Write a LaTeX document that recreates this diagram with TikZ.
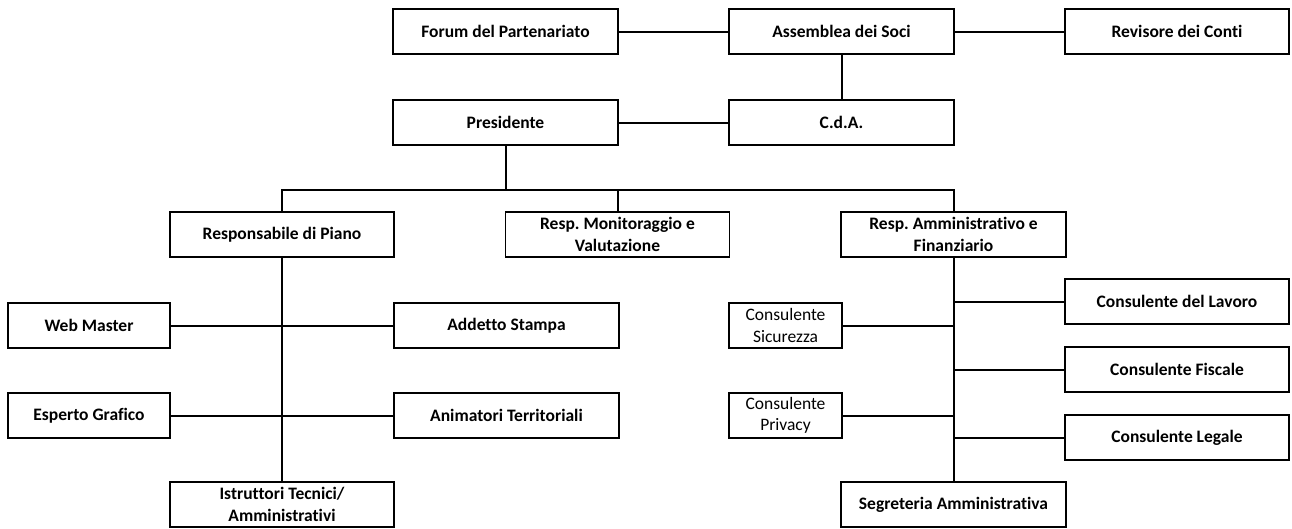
\documentclass[tikz,border=0pt]{standalone}
\usepackage{fontspec}
\setmainfont{Carlito}[Ligatures=NoCommon]
\frenchspacing
\tikzset{
  box/.style={draw=black, line width=1.8pt, fill=white, inner sep=0pt, minimum height=45pt,
    align=center, font=\fontsize{17.5}{21.5}\selectfont\bfseries},
  wbox/.style={box, minimum width=225pt},
  nbox/.style={box, minimum width=224pt},
  sbox/.style={box, minimum width=162pt},
  cbox/.style={box, minimum width=113pt, font=\fontsize{17.5}{21.5}\selectfont},
  link/.style={draw=black, line width=2pt}
}
\begin{document}
\begin{tikzpicture}[x=1pt, y=-1pt]
\useasboundingbox (0,0) rectangle (1292,528);
% connectors first (under boxes)
\coordinate (bus) at (505.5,190);
% top rows
\node[wbox] (forum) at (505.5,31.5) {Forum del Partenariato};
\node[wbox] (assemblea) at (841.5,31.5) {Assemblea dei Soci};
\node[nbox] (revisore) at (1177,31.5) {Revisore dei Conti};
\node[wbox] (presidente) at (505.5,122.5) {Presidente};
\node[wbox] (cda) at (841.5,122.5) {C.d.A.};
% second level
\node[nbox] (piano) at (282,234.5) {Responsabile di Piano};
\node[nbox] (monit) at (617.5,234.5) {Resp. Monitoraggio e\\Valutazione};
\node[wbox] (amm) at (953.5,234.5) {Resp. Amministrativo e\\Finanziario};
% left branch
\node[sbox] (web) at (89,325.5) {Web Master};
\node[wbox] (addetto) at (506.5,325.5) {Addetto Stampa};
\node[sbox] (grafico) at (89,415.5) {Esperto Grafico};
\node[wbox] (animatori) at (506.5,415.5) {Animatori Territoriali};
\node[nbox] (istruttori) at (282,504.5) {Istruttori Tecnici/\\Amministrativi};
% right branch
\node[cbox] (sicurezza) at (785.5,325.5) {Consulente\\Sicurezza};
\node[cbox] (privacy) at (785.5,415.5) {Consulente\\Privacy};
\node[nbox] (lavoro) at (1177,301.5) {Consulente del Lavoro};
\node[nbox] (fiscale) at (1177,369.5) {Consulente Fiscale};
\node[nbox] (legale) at (1177,437.5) {Consulente Legale};
\node[wbox] (segreteria) at (953.5,504.5) {Segreteria Amministrativa};
% connectors
\draw[link] (forum.east) -- (assemblea.west);
\draw[link] (assemblea.east) -- (revisore.west);
\draw[link] (assemblea.south) -- (cda.north);
\draw[link] (presidente.east) -- (cda.west);
\draw[link] (presidente.south) -- (bus);
\draw[link] (piano.north) -- (piano.north |- bus) -- (amm.north |- bus) -- (amm.north);
\draw[link] (monit.north) -- (monit.north |- bus);
\draw[link] (piano.south) -- (istruttori.north);
\draw[link] (web.east) -- (addetto.west);
\draw[link] (grafico.east) -- (animatori.west);
\draw[link] (amm.south) -- (segreteria.north);
\draw[link] (sicurezza.east) -- (sicurezza.east -| amm.south);
\draw[link] (privacy.east) -- (privacy.east -| amm.south);
\draw[link] (lavoro.west) -- (lavoro.west -| amm.south);
\draw[link] (fiscale.west) -- (fiscale.west -| amm.south);
\draw[link] (legale.west) -- (legale.west -| amm.south);
\end{tikzpicture}
\end{document}
